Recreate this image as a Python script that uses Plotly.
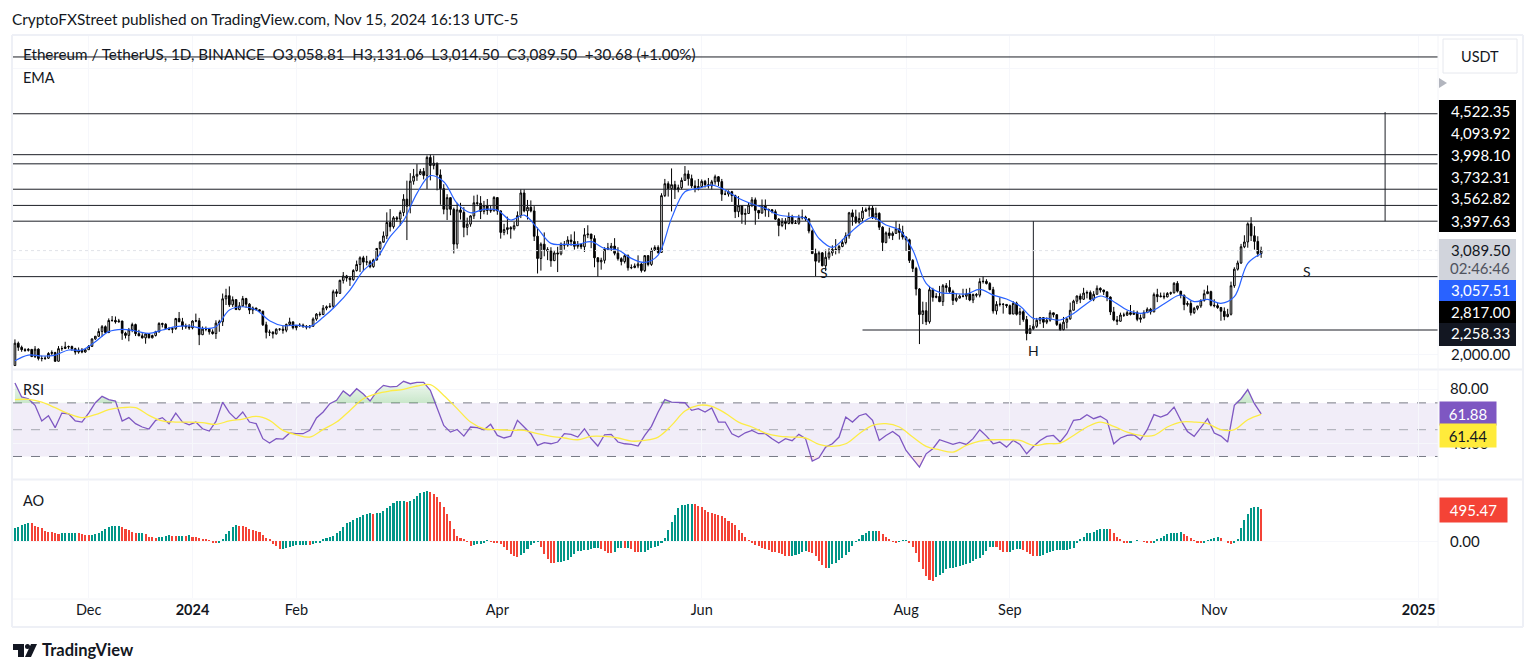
import pandas as pd
import plotly.graph_objects as go

W, H = 1536, 672

# daily candles, Nov 9 2023 .. Nov 15 2024 (open is the previous close)
first_open = 1886
close = [2120,2077,2052,2045,2055,1980,2058,1960,1960,1963,2013,2022,1931,2063,2064,2081,2085,2063,2027,2048,2028,2052,
 2087,2165,2193,2243,2293,2232,2358,2359,2344,2352,2225,2202,2260,2315,2220,2197,2176,2217,2177,2201,2240,2326,2318,2274,2266,2272,2378,2345,2300,2292,2281,
 2352,2355,2209,2268,2268,2239,2221,2330,2344,2585,2618,2523,2576,2472,2511,2587,2529,2467,2489,2470,2455,2313,2234,2236,2218,2267,2267,2256,2317,2343,2282,
 2304,2309,2297,2290,2298,2373,2425,2420,2487,2501,2507,2659,2642,2778,2824,2802,2785,2881,2944,3014,2969,2972,2922,2992,3112,3177,3243,3384,3340,
 3433,3420,3488,3628,3555,3817,3869,3889,3919,3877,4065,3980,4005,3882,3738,3523,3644,3522,3158,3516,3490,3333,3367,3453,3590,3585,3500,3560,3510,3506,3645,
 3505,3280,3310,3330,3318,3350,3456,3693,3505,3543,3505,3240,3007,3157,3100,3085,2984,3065,3055,3157,3147,3200,3184,3135,3155,3130,3255,3263,3215,3014,
 2972,2988,3103,3117,3137,3062,3005,2975,3036,2910,2912,2929,2950,2881,3037,2945,3092,3123,3071,3665,3790,3738,3780,3728,3748,3825,3892,3843,3767,3747,3760,
 3815,3780,3767,3810,3863,3812,3680,3681,3706,3666,3497,3560,3469,3478,3566,3621,3511,3483,3558,3515,3517,3497,3419,3353,3395,3374,3447,3375,3376,3433,
 3441,3421,3295,3058,2979,3066,2931,3020,3066,3103,3100,3133,3174,3245,3485,3443,3387,3426,3503,3517,3535,3440,3480,3335,3175,3275,3247,3270,3318,3280,3231,
 3203,2987,2903,2688,2420,2460,2345,2680,2600,2610,2555,2722,2703,2660,2568,2592,2613,2612,2636,2572,2630,2623,2765,2768,2745,2681,2458,2527,2529,2526,2513,
 2425,2538,2423,2450,2368,2222,2273,2297,2360,2388,2340,2361,2438,2418,2316,2262,2340,2375,2465,2560,2614,2580,2645,2650,2580,2632,2695,2677,2658,2603,
 2448,2364,2350,2415,2414,2440,2422,2440,2370,2385,2440,2476,2448,2629,2607,2613,2605,2641,2648,2747,2665,2622,2525,2536,2440,2485,2510,2568,2638,2660,2518,
 2513,2493,2455,2400,2423,2722,2895,2960,3130,3180,3370,3245,3186,3058,3089.5]
high = [2160,2137,2095,2068,2068,2060,2090,2066,1990,1985,2026,2045,2030,2090,2092,2135,2095,2095,2072,2075,2070,2055,
 2100,2170,2195,2275,2310,2306,2380,2405,2400,2375,2355,2240,2280,2335,2325,2260,2225,2225,2225,2210,2250,2340,2335,2330,2290,2290,2385,2447,2385,2325,2320,
 2360,2430,2385,2295,2295,2270,2265,2360,2365,2640,2690,2715,2610,2580,2550,2615,2595,2540,2505,2480,2475,2460,2345,2262,2245,2275,2275,2305,2325,2387,2350,
 2310,2330,2325,2310,2310,2390,2435,2450,2520,2515,2540,2680,2685,2785,2865,2835,2815,2895,2985,3030,3035,3035,2990,3005,3115,3190,3290,3490,3525,
 3450,3450,3510,3680,3822,3900,3945,3995,3945,3955,4085,4094,4085,4010,3940,3785,3680,3615,3540,3590,3590,3545,3435,3460,3665,3675,3660,3610,3630,3565,3660,
 3645,3510,3370,3445,3345,3390,3500,3730,3730,3620,3615,3555,3330,3175,3280,3125,3125,3095,3130,3175,3190,3240,3260,3290,3190,3165,3325,3355,3265,3250,
 3020,3015,3125,3170,3170,3220,3125,3020,3055,3050,2945,2955,3040,2960,3040,3040,3120,3145,3145,3690,3840,3815,3950,3820,3780,3855,3975,3930,3885,3825,3840,
 3835,3830,3850,3830,3885,3870,3840,3715,3720,3715,3675,3660,3550,3530,3590,3650,3645,3515,3625,3625,3530,3525,3520,3430,3430,3430,3490,3465,3410,3465,
 3520,3455,3430,3310,3110,3085,3075,3100,3115,3145,3210,3150,3210,3280,3495,3520,3518,3490,3545,3540,3565,3560,3540,3490,3345,3290,3330,3290,3400,3370,3350,
 3240,3215,3000,2920,2698,2555,2550,2720,2700,2645,2720,2740,2750,2780,2680,2640,2630,2690,2690,2700,2640,2645,2800,2820,2790,2760,2710,2560,2600,2540,2530,
 2525,2560,2555,2490,2465,2405,2310,2320,2385,2395,2385,2390,2465,2420,2425,2335,2395,2380,2545,2575,2620,2640,2700,2672,2672,2665,2725,2705,2680,2640,
 2610,2500,2405,2440,2440,2460,2520,2465,2460,2420,2465,2495,2490,2650,2690,2650,2650,2655,2660,2760,2770,2660,2630,2560,2565,2500,2510,2580,2680,2725,2670,
 2580,2540,2500,2495,2480,2765,2915,2985,3160,3250,3385,3440,3345,3240,3131]
low = [1884,2040,2030,2030,2033,1975,1965,1940,1930,1945,1955,1995,1925,1930,2040,2060,2060,2040,2000,2010,2015,2020,
 2050,2080,2155,2185,2190,2220,2225,2345,2325,2335,2155,2170,2140,2235,2195,2200,2170,2115,2170,2170,2190,2230,2285,2265,2255,2225,2260,2340,2260,2270,2260,
 2265,2340,2100,2205,2245,2210,2210,2165,2240,2300,2520,2500,2500,2470,2465,2500,2490,2425,2425,2465,2450,2300,2170,2195,2170,2210,2250,2220,2235,2300,2265,
 2255,2290,2280,2265,2275,2290,2355,2400,2415,2465,2490,2485,2605,2635,2745,2765,2720,2775,2870,2865,2875,2935,2905,2910,2985,3040,3185,3210,3290,
 3320,3390,3350,3450,3200,3480,3780,3820,3880,3835,3735,3825,3940,3720,3570,3470,3410,3460,3060,3110,3415,3230,3250,3340,3420,3555,3420,3470,3465,3485,3500,
 3465,3215,3250,3260,3215,3300,3350,3430,3490,3415,3490,3190,2850,2880,3030,2990,2920,2985,2865,3040,3100,3130,3140,3100,3110,3105,3075,3220,3115,2915,
 2815,2890,2955,3100,3085,3040,2985,2935,2955,2880,2895,2905,2905,2860,2865,2925,2930,3090,3055,3065,3650,3655,3500,3630,3700,3730,3820,3770,3745,3700,3720,
 3750,3750,3740,3730,3780,3765,3610,3670,3655,3600,3430,3440,3370,3360,3475,3545,3360,3420,3475,3445,3440,3480,3410,3240,3335,3310,3365,3365,3370,3360,
 3415,3400,3270,3055,2820,2960,2925,2875,2995,3035,3050,3060,3125,3155,3215,3350,3370,3370,3400,3495,3445,3420,3410,3305,3085,3165,3215,3200,3265,3205,3205,
 3085,2960,2865,2620,2111,2320,2310,2325,2555,2590,2550,2510,2650,2640,2520,2550,2590,2600,2575,2560,2540,2600,2600,2745,2735,2675,2430,2420,2505,2430,2490,
 2425,2425,2410,2310,2345,2150,2240,2260,2280,2320,2280,2320,2345,2390,2300,2250,2255,2275,2365,2465,2530,2540,2575,2590,2575,2560,2630,2650,2625,2560,
 2415,2350,2310,2345,2395,2405,2410,2415,2350,2335,2380,2440,2420,2445,2550,2600,2580,2600,2625,2640,2650,2590,2465,2505,2410,2425,2465,2490,2555,2645,2505,
 2495,2480,2355,2360,2390,2410,2700,2880,2950,3115,3120,3190,3100,3025,3014]

# blue EMA, one reading every 4 days
ema = [1937,1996,1986,1996,2049,2049,2136,2241,2265,2248,2223,2258,2293,2300,2275,2293,2467,2502,2467,2356,2303,2310,2293,2391,2520,2677,2879,3008,3235,3403,3689,3874,3811,3584,3486,3521,3514,
 3410,3462,3322,3165,3155,3155,3183,3113,3096,3008,2966,3043,3427,3706,3741,3776,3724,3637,3577,3532,3462,3445,3427,3218,3124,3235,3357,3438,3357,3305,3096,2747,2652,2642,2635,2684,2624,
 2583,2509,2380,2380,2363,2432,2537,2614,2555,2467,2432,2467,2555,2625,2555,2579,2537,2607,2956,3057.51]

# RSI, one reading every 2 days
rsi = [84.8,74.4,73.1,68.2,56.5,60.4,51.5,62.4,61.9,56.5,55.7,62.4,70.1,74.9,72.4,71.4,56.5,59,54.5,52,50.5,57,59,54.5,62.4,55.7,53.7,55.7,50.7,49,56.2,70.6,62.7,57.9,63.2,55.7,54.5,43.3,40,43.3,43,47.5,47,47,49.5,58.7,63.2,69.4,71.9,78.9,75.1,80.6,76.6,71.4,78.6,83.1,81.9,82.3,86.1,84.3,85.3,85.3,79.4,66.9,53.2,48.2,50.2,45.2,52,51.5,50,54,45.7,
 43.8,45.2,57,52,47,38.3,40.3,39.5,40.8,47,46.5,44.5,50.7,43.3,37.8,46.2,46.5,40.8,39.5,39,37.8,45.7,52.5,63.2,72.4,70.6,70.6,70.1,64.4,65.7,63.2,66.2,55.7,55.7,47,44.5,47.7,49.5,47,47,43.3,40,43.3,41.8,46.5,43.3,26.6,29,37,39.5,44.5,59.4,55.7,60.4,61.9,57,42,45.7,48.7,45,34.5,28.3,22.1,32,35.8,42.5,40.8,39,40.5,39,43.3,50,45.2,39.5,40.8,
 37,42,39,32,37.5,42,45,45.7,40.8,47,57,57.7,61.2,58.2,60,57,39.5,43.8,45.7,46.2,42.5,50,61.2,59.4,61.4,66.9,57,48.7,45,51.5,58.2,47.5,45.2,40.8,68.2,73.1,79.9,69.4,61.88]

# yellow RSI average, one reading every 4 days
rsi_ma = [72.4,72.6,70.6,66.4,61.9,59,61.2,64.9,66.4,66.4,60.7,56.5,55.7,55.7,55.2,54,56.5,57.9,59.9,57,49.5,46.2,44.5,50.2,55.7,64.4,73.1,76.9,78.9,80.1,82.6,83.6,75.6,65.7,55.7,50.7,50,
 49.5,49.5,47,45,43.8,42.5,45,45,43.8,41.5,42,44.5,53.2,63.9,68.2,67.4,62.4,55.7,52,47.5,45.2,44.5,43.8,39,37.5,39.5,47,53.2,54.5,52,44.5,37.5,35,33.3,38.3,41.5,42.5,
 42.5,42,38.3,39.5,40,45.7,52,55.7,52.5,48.2,45.7,45.7,52,55.7,55.7,54.5,50,50,57.4,61.44]

# awesome oscillator, daily
ao = [198,224,250,260,286,276,239,224,198,151,146,135,120,109,120,130,130,130,130,120,109,99,88,99,109,130,156,187,224,234,239,239,224,187,172,146,120,120,120,114,68,57,52,57,68,78,94,83,78,83,83,73,94,68,57,42,36,31,5,-16,-36,-26,31,104,151,224,250,239,234,213,192,172,161,146,94,42,16,-47,-78,-125,-120,-109,-88,-73,-62,-62,-62,-62,-68,-52,-36,-16,26,52,68,83,120,161,224,276,302,328,364,380,406,421,432,426,432,442,468,510,546,588,624,629,629,614,624,650,702,744,770,775,759,733,692,614,536,421,317,182,78,42,16,-10,-78,-68,-47,-42,-21,5,-10,-21,-36,-47,
 -88,-140,-203,-234,-255,-218,-182,-130,-62,-26,-10,-88,-208,-286,-338,-348,-328,-328,-317,-296,-255,-208,-156,-156,-146,-140,-130,-114,-104,-125,-151,-182,-187,-166,-104,-104,-114,-114,-130,-166,-177,-177,-166,-140,-114,-99,-73,-36,52,172,291,406,510,562,562,572,577,572,546,525,484,458,442,421,411,395,354,312,286,250,172,120,68,10,-36,-62,-78,-104,-120,-140,-172,-177,-182,-208,-229,-239,-234,-218,-203,-166,-156,-166,-182,-234,-307,-374,-426,-426,-364,-338,-296,-260,-218,-166,-78,-10,26,94,130,151,156,161,156,109,68,26,-10,-26,-5,5,5,-16,-88,-182,-322,-442,-546,-608,-624,-567,-530,-494,-437,-421,-416,-400,-385,-374,-358,-338,-307,-286,-260,-218,-156,-99,-88,-99,-140,
 -166,-177,-166,-140,-130,-130,-135,-166,-203,-229,-239,-234,-224,-182,-166,-156,-146,-146,-146,-140,-130,-114,-36,16,68,120,130,140,172,182,187,187,182,120,57,16,-16,-36,-26,0,5,0,-10,-26,-36,-16,16,42,83,109,120,130,130,135,109,83,42,5,-21,-36,-16,5,16,52,57,42,0,-26,-47,-21,26,198,328,421,510,530,530,495.47]

full_levels = [5117, 4522.35, 4093.92, 3998.10, 3732.31, 3562.82, 3397.63, 2817.00]
neckline = 2258.33
last_price = 3089.50
rsi_levels = [70, 50, 30]
tick_dates = ["2023-12-01", "2024-01-01", "2024-02-01", "2024-04-01", "2024-06-01", "2024-08-01", "2024-09-01", "2024-11-01", "2025-01-01"]
tick_text = ["Dec", "<b>2024</b>", "Feb", "Apr", "Jun", "Aug", "Sep", "Nov", "<b>2025</b>"]

dates = pd.date_range("2023-11-09", periods=len(close), freq="D")
x_range = ["2023-11-08 10:00", "2025-01-06 19:00"]


def fx(px):
    return px / W


def fy(py):
    return 1 - py / H


FONT = "Lato"
INK = "#131722"
GREEN, RED = "#009688", "#f44336"

fig = go.Figure()

fig.add_trace(go.Candlestick(
    x=dates, open=[first_open] + close[:-1], high=high, low=low, close=close,
    increasing=dict(line=dict(color="#000000", width=1), fillcolor="#ffffff"),
    decreasing=dict(line=dict(color="#000000", width=1), fillcolor="#000000"),
    whiskerwidth=0, xaxis="x", yaxis="y", showlegend=False))

# horizontal levels and the two measured moves
for lvl in full_levels:
    fig.add_trace(go.Scatter(x=x_range, y=[lvl, lvl], mode="lines", line=dict(color="#1c1f26", width=1),
                             xaxis="x", yaxis="y", showlegend=False))
fig.add_trace(go.Scatter(x=["2024-07-19", x_range[1]], y=[neckline, neckline], mode="lines",
                         line=dict(color="#1c1f26", width=1), xaxis="x", yaxis="y", showlegend=False))
fig.add_trace(go.Scatter(x=["2024-09-08", "2024-09-08"], y=[3397.63, 2258.33], mode="lines",
                         line=dict(color="#1c1f26", width=1), xaxis="x", yaxis="y", showlegend=False))
fig.add_trace(go.Scatter(x=["2024-12-22", "2024-12-22"], y=[4540, 3397.63], mode="lines",
                         line=dict(color="#1c1f26", width=1), xaxis="x", yaxis="y", showlegend=False))
fig.add_trace(go.Scatter(x=x_range, y=[last_price, last_price], mode="lines",
                         line=dict(color="#e0e2e8", width=1, dash="dot"), xaxis="x", yaxis="y", showlegend=False))
fig.add_trace(go.Scatter(x=dates[::4], y=ema, mode="lines", line=dict(color="#2962ff", width=1.2, shape="spline"),
                         xaxis="x", yaxis="y", showlegend=False))

# RSI pane
rsi_x = dates[::2]
fig.add_trace(go.Scatter(x=rsi_x, y=[70] * len(rsi), mode="lines", line=dict(width=0), xaxis="x2", yaxis="y2", showlegend=False))
fig.add_trace(go.Scatter(x=rsi_x, y=[max(v, 70) for v in rsi], mode="lines", line=dict(width=0), fill="tonexty",
                         fillgradient=dict(type="vertical", start=70, stop=90,
                                           colorscale=[[0, "rgba(76,175,80,0.30)"], [1, "rgba(76,175,80,0.02)"]]),
                         xaxis="x2", yaxis="y2", showlegend=False))
fig.add_trace(go.Scatter(x=rsi_x, y=[30] * len(rsi), mode="lines", line=dict(width=0), xaxis="x2", yaxis="y2", showlegend=False))
fig.add_trace(go.Scatter(x=rsi_x, y=[min(v, 30) for v in rsi], mode="lines", line=dict(width=0), fill="tonexty",
                         fillcolor="rgba(242,54,69,0.12)", xaxis="x2", yaxis="y2", showlegend=False))
fig.add_trace(go.Scatter(x=rsi_x, y=rsi, mode="lines", line=dict(color="#7e57c2", width=1.3),
                         xaxis="x2", yaxis="y2", showlegend=False))
fig.add_trace(go.Scatter(x=dates[::4], y=rsi_ma, mode="lines", line=dict(color="#fdec45", width=1.3, shape="spline"),
                         xaxis="x2", yaxis="y2", showlegend=False))

# AO pane, green when rising
ao_colors = [GREEN if i == 0 or ao[i] >= ao[i - 1] else RED for i in range(len(ao))]
fig.add_trace(go.Bar(x=dates, y=ao, marker=dict(color=ao_colors, line=dict(width=0)), width=0.62 * 86400000,
                     xaxis="x3", yaxis="y3", showlegend=False))

shapes = []


def box(x0, y0, x1, y1, fill=None, line=None, width=0):
    shapes.append(dict(type="rect", xref="paper", yref="paper", x0=fx(x0), x1=fx(x1), y0=fy(y0), y1=fy(y1),
                       fillcolor=fill, line=dict(color=line, width=width), layer="above"))


def rule(x0, y0, x1, y1, color="#eef0f6", width=2):
    shapes.append(dict(type="line", xref="paper", yref="paper", x0=fx(x0), x1=fx(x1), y0=fy(y0), y1=fy(y1),
                       line=dict(color=color, width=width), layer="above"))


# frame and pane separators
rule(12, 35, 1523, 35)
rule(12, 35, 12, 627)
rule(1523, 35, 1523, 627)
rule(12, 627, 1523, 627)
rule(13, 369.5, 1523, 369.5)
rule(13, 479.5, 1523, 479.5)
rule(13, 599, 1438, 599, "#f3f4f8", 1)
rule(1438, 36, 1438, 627, "#f3f4f8", 1)

# RSI band
shapes.append(dict(type="rect", xref="x2", yref="y2", x0=x_range[0], x1=x_range[1], y0=30, y1=70,
                   fillcolor="rgba(126,87,194,0.11)", line=dict(width=0), layer="below"))
for lvl in rsi_levels:
    shapes.append(dict(type="line", xref="x2", yref="y2", x0=x_range[0], x1=x_range[1], y0=lvl, y1=lvl,
                       line=dict(color="#787b86" if lvl != 50 else "#a6a8b0", width=1, dash="dash"), layer="below"))

# price scale blocks
box(1439, 100, 1516, 232, "#000000")
box(1439, 239, 1516, 280, "#d1d4dc")
box(1439, 280, 1516, 301, "#2962ff")
box(1439, 301, 1516, 323, "#000000")
box(1439, 323, 1516, 346, "#131722")
box(1443, 39, 1517, 73, "#ffffff", "#e6e8ee", 1)
shapes.append(dict(type="path", xref="paper", yref="paper", fillcolor="#b2b5be", line=dict(width=0), layer="above",
                   path=f"M{fx(1439)},{fy(78)} L{fx(1447)},{fy(83)} L{fx(1439)},{fy(88)} Z"))

# TradingView mark
shapes.append(dict(type="path", xref="paper", yref="paper", fillcolor=INK, line=dict(width=0), layer="above",
                   path=f"M{fx(13)},{fy(644)} L{fx(24)},{fy(644)} L{fx(24)},{fy(657)} L{fx(18)},{fy(657)} L{fx(18)},{fy(650)} L{fx(13)},{fy(650)} Z"))
shapes.append(dict(type="circle", xref="paper", yref="paper", x0=fx(25), x1=fx(30), y0=fy(649), y1=fy(644),
                   fillcolor=INK, line=dict(width=0), layer="above"))
shapes.append(dict(type="path", xref="paper", yref="paper", fillcolor=INK, line=dict(width=0), layer="above",
                   path=f"M{fx(31)},{fy(644)} L{fx(37)},{fy(644)} L{fx(31)},{fy(657)} L{fx(25)},{fy(657)} Z"))

annotations = []


def note(px, py, text, size=14, color=INK, anchor="left", **kw):
    annotations.append(dict(xref="paper", yref="paper", x=fx(px), y=fy(py), text=text, showarrow=False,
                            xanchor=anchor, yanchor="middle",
                            font=dict(family=FONT, size=size, color=color), **kw))


note(10, 19, "CryptoFXStreet published on TradingView.com, Nov 15, 2024 16:13 UTC-5", 15.4)
note(21, 54, "Ethereum / TetherUS, 1D, BINANCE&nbsp;&nbsp;O3,058.81&nbsp;&nbsp;H3,131.06&nbsp;&nbsp;L3,014.50&nbsp;&nbsp;C3,089.50&nbsp;&nbsp;+30.68 (+1.00%)", 15.2)
note(21, 77, "EMA", 14.5)
note(21, 389, "RSI", 14.5)
note(21, 500, "AO", 14.5)
note(824, 272, "S", 14, anchor="center")
note(1033, 350, "H", 14, anchor="center")
note(1307, 271, "S", 14, anchor="center")
note(1480, 56, "USDT", 14.5, anchor="center")

for py, label in [(111, "4,522.35"), (133, "4,093.92"), (155, "3,998.10"), (177, "3,732.31"), (198, "3,562.82"),
                  (221, "3,397.63"), (290, "3,057.51"), (312, "2,817.00"), (333, "2,258.33")]:
    note(1512, py, label, 15, "#ffffff", "right")
note(1512, 250, "3,089.50", 15, INK, "right")
note(1512, 268, "02:46:46", 15, "#50535e", "right")
note(1512, 354, "2,000.00", 15, INK, "right")
note(1491, 388, "80.00", 15, INK, "right")
note(1491, 443, "40.00", 15, INK, "right")
note(1439, 413, "61.88", 15, "#ffffff", "left", bgcolor="#7e57c2", width=56, height=23, align="center", borderpad=0)
note(1439, 435.5, "61.44", 15, "#131722", "left", bgcolor="#ffeb3b", width=56, height=23, align="center", borderpad=0)
note(1439, 510, "495.47", 15, "#ffffff", "left", bgcolor=RED, width=67, height=24, align="center", borderpad=0)
note(1482, 541, "0.00", 15, INK, "right")
note(40, 650, "<b>TradingView</b>", 16.5)

grid = "#f6f7fb"
x_common = dict(type="date", range=x_range, domain=[fx(13), fx(1438)], showgrid=True, gridcolor=grid, gridwidth=1,
                tickmode="array", tickvals=tick_dates, ticktext=tick_text, zeroline=False, showline=False, ticks="",
                rangeslider=dict(visible=False))
y_common = dict(showgrid=True, gridcolor=grid, gridwidth=1, zeroline=False, showline=False, ticks="", showticklabels=False)

fig.update_layout(
    width=W, height=H, margin=dict(l=0, r=0, t=0, b=0), paper_bgcolor="#ffffff", plot_bgcolor="#ffffff",
    font=dict(family=FONT, size=14, color=INK), showlegend=False, barmode="overlay", bargap=0,
    shapes=shapes, annotations=annotations,
    xaxis=dict(**x_common, anchor="y", showticklabels=False),
    xaxis2=dict(**x_common, anchor="y2", showticklabels=False),
    xaxis3=dict(**x_common, anchor="y3", showticklabels=True, ticklabelstandoff=1,
                tickfont=dict(family=FONT, size=14.5, color=INK)),
    yaxis=dict(**y_common, domain=[fy(369), fy(36)], range=[1850, 5336.5], tickvals=[2000, 3000, 4000, 5000]),
    yaxis2=dict(**y_common, domain=[fy(479), fy(371)], range=[13.2, 93.8], tickvals=[40, 80]),
    yaxis3=dict(**y_common, domain=[fy(598), fy(481)], range=[-890, 937], tickvals=[0]),
)

fig.write_html("out.html", config=dict(displayModeBar=False), post_script="document.body.style.margin='0';")
